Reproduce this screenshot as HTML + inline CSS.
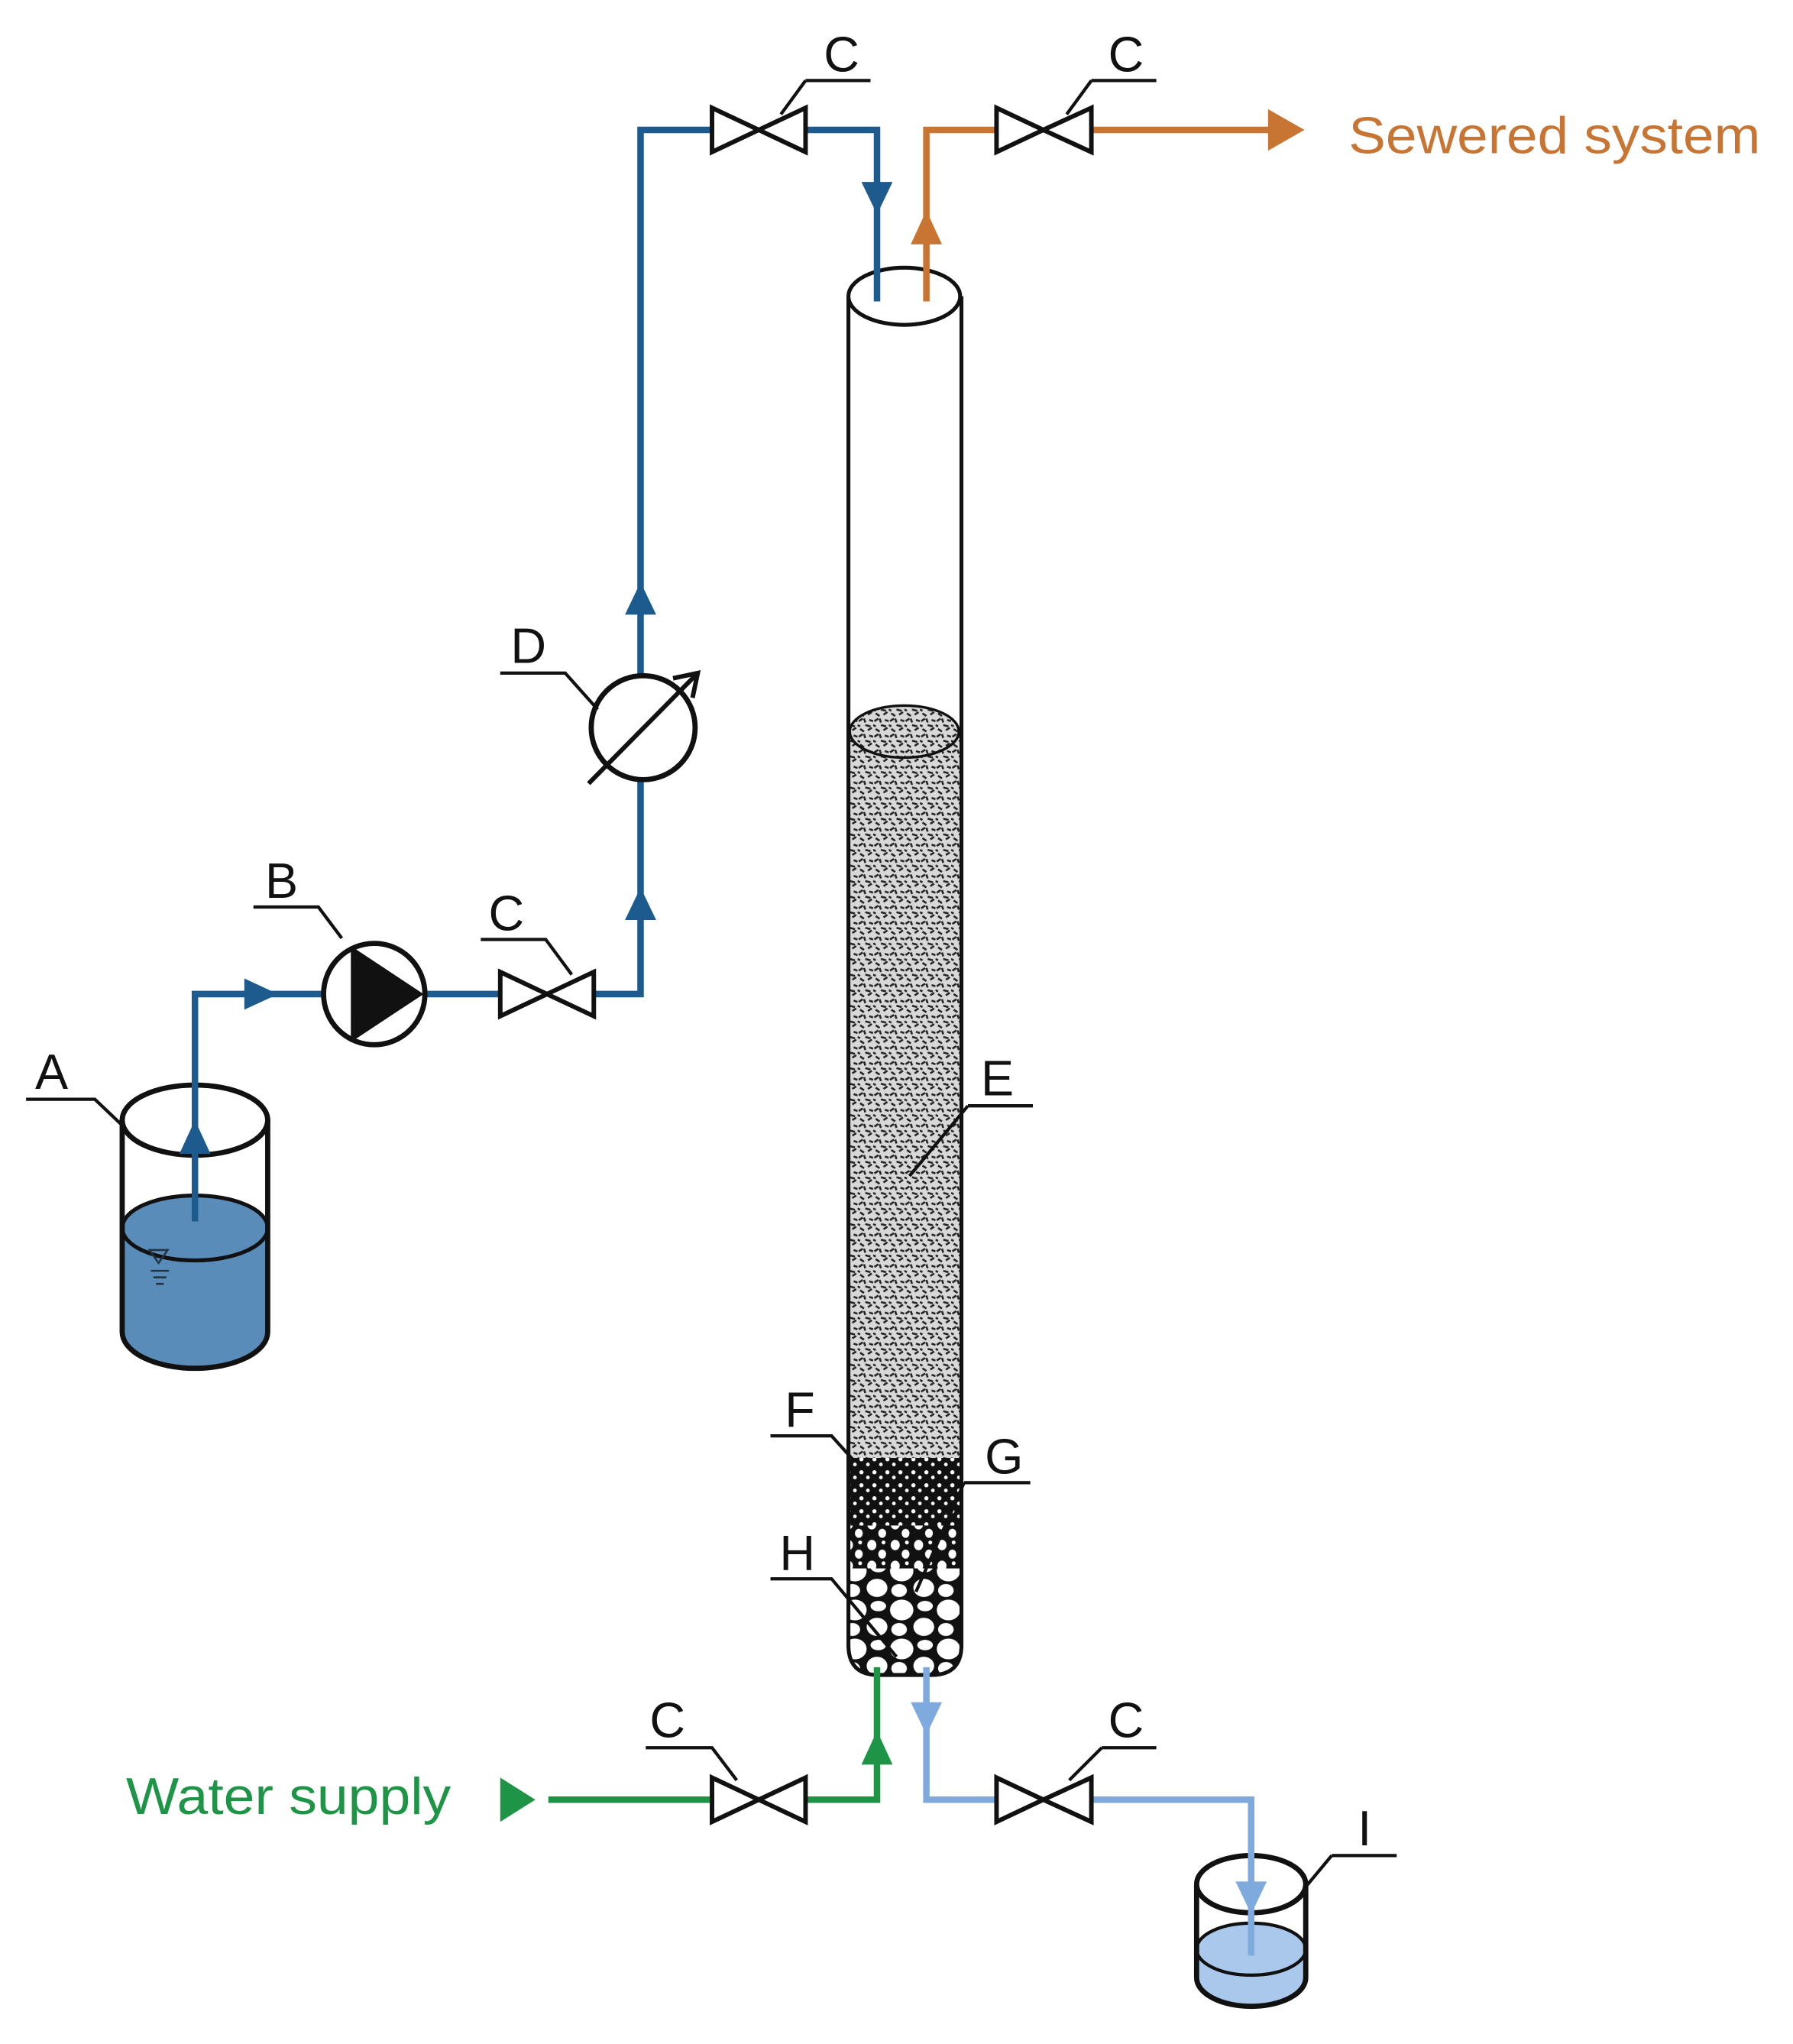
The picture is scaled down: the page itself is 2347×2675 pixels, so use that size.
<!DOCTYPE html>
<html><head><meta charset="utf-8"><style>
html,body{margin:0;padding:0;background:#fff}
svg{display:block}
text{font-family:"Liberation Sans",sans-serif}
</style></head><body>
<svg width="2347" height="2675" viewBox="0 0 1380 1573" xmlns="http://www.w3.org/2000/svg">
<defs>
<pattern id="sand" width="12" height="12" patternUnits="userSpaceOnUse">
<rect width="12" height="12" fill="#d8d8d8"/>
<path d="M1 3l3 -2M6 6l4 1M2 9l3 2M8 10l3 -2M9 2l3 1M5 1l1 3M0 6l2 1" stroke="#222" stroke-width="1.5" fill="none"/>
</pattern>
<pattern id="fine" width="10" height="10" patternUnits="userSpaceOnUse">
<rect width="10" height="10" fill="#111"/>
<circle cx="3" cy="3" r="1.6" fill="#fff"/><circle cx="8" cy="7" r="1.4" fill="#fff"/>
</pattern>
<pattern id="med" width="18" height="16" patternUnits="userSpaceOnUse">
<rect width="18" height="16" fill="#111"/>
<ellipse cx="5" cy="5" rx="3.5" ry="4" fill="#fff"/><ellipse cx="13" cy="12" rx="3" ry="3.5" fill="#fff"/><circle cx="14" cy="3" r="1.5" fill="#fff"/>
</pattern>
<pattern id="big" width="36" height="30" patternUnits="userSpaceOnUse">
<rect width="36" height="30" fill="#111"/>
<ellipse cx="10" cy="9" rx="9" ry="8" fill="#fff"/><ellipse cx="27" cy="22" rx="8" ry="7" fill="#fff"/><ellipse cx="28" cy="6" rx="6" ry="4" fill="#fff"/><ellipse cx="8" cy="24" rx="6" ry="5" fill="#fff"/>
</pattern>
<clipPath id="col"><path d="M653 250 L653 1266 Q653 1289 676 1289 L717 1289 Q740 1289 740 1266 L740 250 Z"/></clipPath>
</defs>

<g clip-path="url(#col)">
<rect x="650" y="563" width="95" height="565" fill="url(#sand)"/>
<rect x="650" y="1122" width="95" height="52" fill="url(#fine)"/>
<rect x="650" y="1174" width="95" height="34" fill="url(#med)"/>
<rect x="650" y="1207" width="95" height="90" fill="url(#big)"/>
</g>
<ellipse cx="696" cy="563" rx="42" ry="20" fill="url(#sand)" stroke="#111" stroke-width="2"/>
<path d="M653 228 L653 1266 Q653 1289 676 1289 L717 1289 Q740 1289 740 1266 L740 228" fill="none" stroke="#111" stroke-width="3"/>
<ellipse cx="696" cy="228" rx="43" ry="22" fill="#fff" stroke="#111" stroke-width="3"/>

<path d="M94 945 L94 1025 A56 28 0 0 0 206 1025 L206 945 Z" fill="#5a8cba"/>
<ellipse cx="150" cy="945" rx="56" ry="25" fill="#5a8cba" stroke="#111" stroke-width="3"/>
<path d="M94 862 L94 1025 A56 28 0 0 0 206 1025 L206 862" fill="none" stroke="#111" stroke-width="4"/>
<ellipse cx="150" cy="862" rx="56" ry="27" fill="#fff" stroke="#111" stroke-width="4"/>
<path d="M115 962 l14 0 l-7 10z M116 978h14 M118 983h10 M120 988h6" stroke="#234" stroke-width="1.5" fill="none"/>

<path d="M921 1500 L921 1520 A42 22 0 0 0 1005 1520 L1005 1500 Z" fill="#a9c8ec"/>
<ellipse cx="963" cy="1500" rx="42" ry="20" fill="#a9c8ec" stroke="#111" stroke-width="2.5"/>
<path d="M921 1450 L921 1522 A42 22 0 0 0 1005 1522 L1005 1450" fill="none" stroke="#111" stroke-width="4"/>
<ellipse cx="963" cy="1450" rx="42" ry="22" fill="#fff" stroke="#111" stroke-width="4"/>

<g stroke="#1d5a8e" stroke-width="5" fill="none">
<path d="M150 940 L150 765 L250 765"/>
<path d="M328 765 L385 765"/>
<path d="M457 765 L493 765 L493 100 L547 100"/>
<path d="M620 100 L675 100 L675 232"/>
</g>
<g fill="#1d5a8e">
<path d="M138 888 L150 862 L162 888Z"/>
<path d="M188 753 L214 765 L188 777Z"/>
<path d="M481 708 L493 683 L505 708Z"/>
<path d="M481 473 L493 448 L505 473Z"/>
<path d="M663 140 L675 165 L687 140Z"/>
</g>
<g stroke="#c87533" stroke-width="5" fill="none">
<path d="M713 232 L713 100 L767 100"/>
<path d="M840 100 L978 100"/>
</g>
<g fill="#c87533">
<path d="M701 188 L713 162 L725 188Z"/>
<path d="M976 84 L1004 100 L976 116Z"/>
</g>
<text x="1038" y="118" font-size="40" fill="#c87533" textLength="317" lengthAdjust="spacingAndGlyphs">Sewered system</text>
<g stroke="#1e9447" stroke-width="5" fill="none">
<path d="M422 1385 L548 1385"/>
<path d="M620 1385 L675 1385 L675 1283"/>
</g>
<g fill="#1e9447">
<path d="M385 1368 L412 1385 L385 1402Z"/>
<path d="M663 1358 L675 1332 L687 1358Z"/>
</g>
<text x="97" y="1396" font-size="40" fill="#1e9447" textLength="250" lengthAdjust="spacingAndGlyphs">Water supply</text>
<g stroke="#7eaade" stroke-width="5" fill="none">
<path d="M713 1283 L713 1385 L767 1385"/>
<path d="M840 1385 L963 1385 L963 1505"/>
</g>
<g fill="#7eaade">
<path d="M701 1310 L713 1335 L725 1310Z"/>
<path d="M951 1448 L963 1473 L975 1448Z"/>
</g>

<g fill="#fff" stroke="#111" stroke-width="3.5" stroke-linejoin="miter">
<path d="M548 83 L584 100 L548 117Z M620 83 L584 100 L620 117Z"/>
<path d="M767 83 L803 100 L767 117Z M840 83 L803 100 L840 117Z"/>
<path d="M385 748 L421 765 L385 782Z M457 748 L421 765 L457 782Z"/>
<path d="M548 1368 L584 1385 L548 1402Z M620 1368 L584 1385 L620 1402Z"/>
<path d="M767 1368 L803 1385 L767 1402Z M840 1368 L803 1385 L840 1402Z"/>
</g>
<circle cx="288" cy="765" r="39" fill="#fff" stroke="#111" stroke-width="4"/>
<path d="M270 728 L326 765 L270 802Z" fill="#111"/>
<circle cx="495" cy="560" r="40" fill="#fff" stroke="#111" stroke-width="4"/>
<path d="M453 603 L535 520 M518 522 L537 518 L533 537" stroke="#111" stroke-width="3.5" fill="none"/>

<g stroke="#111" stroke-width="2.5" fill="none">
<path d="M20 846 L73 846 L94 866"/>
<path d="M195 698 L245 698 L263 722"/>
<path d="M385 518 L435 518 L460 546"/>
<path d="M370 723 L420 723 L440 750"/>
<path d="M620 62 L670 62 M620 62 L601 88"/>
<path d="M840 62 L890 62 M840 62 L821 88"/>
<path d="M497 1345 L548 1345 L567 1370"/>
<path d="M848 1345 L890 1345 M848 1345 L823 1370"/>
<path d="M745 851 L795 851 M745 851 L700 905"/>
<path d="M593 1105 L640 1105 L658 1125"/>
<path d="M742 1141 L793 1141 M742 1141 L705 1225"/>
<path d="M593 1215 L640 1215 L690 1275"/>
<path d="M1025 1428 L1075 1428 M1025 1428 L1005 1452"/>
</g>
<g font-size="38" fill="#111">
<text x="27" y="838">A</text>
<text x="204" y="691">B</text>
<text x="393" y="510">D</text>
<text x="376" y="716">C</text>
<text x="634" y="55">C</text>
<text x="853" y="55">C</text>
<text x="500" y="1337">C</text>
<text x="853" y="1337">C</text>
<text x="755" y="843">E</text>
<text x="604" y="1098">F</text>
<text x="758" y="1134">G</text>
<text x="600" y="1208">H</text>
<text x="1045" y="1420">I</text>
</g>
</svg>
</body></html>
